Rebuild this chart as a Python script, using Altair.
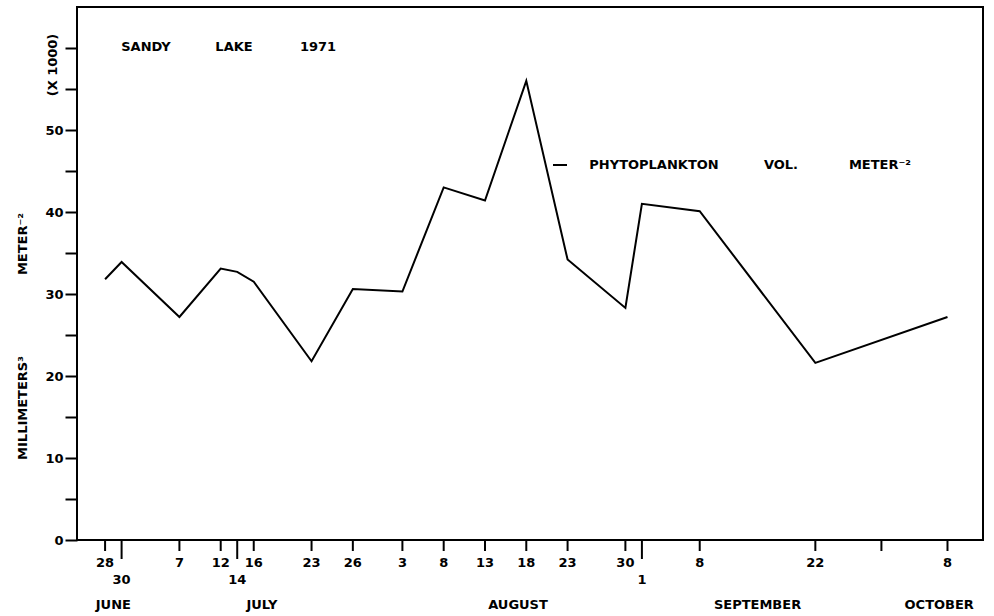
import datetime as dt
import altair as alt
import pandas as pd

# ---------------- data ----------------
sample_dates = ["1971-06-28", "1971-06-30", "1971-07-07", "1971-07-12", "1971-07-14",
                "1971-07-16", "1971-07-23", "1971-07-28", "1971-08-03", "1971-08-08",
                "1971-08-13", "1971-08-18", "1971-08-23", "1971-08-30", "1971-09-01",
                "1971-09-08", "1971-09-22", "1971-10-08"]
volume = [31.8, 33.9, 27.2, 33.1, 32.7, 31.5, 21.8, 30.6, 30.3, 43.0,
          41.4, 56.0, 34.2, 28.3, 41.0, 40.1, 21.6, 27.2]

tick_dates = ["1971-06-28", "1971-06-30", "1971-07-07", "1971-07-12", "1971-07-14",
              "1971-07-16", "1971-07-23", "1971-07-28", "1971-08-03", "1971-08-08",
              "1971-08-13", "1971-08-18", "1971-08-23", "1971-08-30", "1971-09-01",
              "1971-09-08", "1971-09-22", "1971-09-30", "1971-10-08"]
tick_labels = ["28", "30", "7", "12", "14", "16", "23", "26", "3", "8",
               "13", "18", "23", "30", "1", "8", "22", "", "8"]
tick_rows = [1, 2, 1, 1, 2, 1, 1, 1, 1, 1, 1, 1, 1, 1, 2, 1, 1, 1, 1]

month_names = ["JUNE", "JULY", "AUGUST", "SEPTEMBER", "OCTOBER"]
month_dates = ["1971-06-29", "1971-07-17", "1971-08-17", "1971-09-15", "1971-10-07"]

y_tick_values = [0, 5, 10, 15, 20, 25, 30, 35, 40, 45, 50, 55, 60]

ORIGIN = dt.date(1971, 6, 28)


def day_offset(s):
    return (dt.date.fromisoformat(s) - ORIGIN).days


series = pd.DataFrame({"day": [day_offset(d) for d in sample_dates], "volume": volume})
ticks = pd.DataFrame({"day": [day_offset(d) for d in tick_dates],
                      "label": tick_labels, "row": tick_rows})
months = pd.DataFrame({"day": [day_offset(d) for d in month_dates], "month": month_names})

FONT = "DejaVu Sans"
W, H = 906, 533

x_scale = alt.Scale(domain=[-3.4, 106.3], nice=False, zero=False)
y_scale = alt.Scale(domain=[0, 65], nice=False, zero=True)

line = alt.Chart(series).mark_line(color="black", strokeWidth=2).encode(
    x=alt.X("day:Q", scale=x_scale, axis=None),
    y=alt.Y("volume:Q", scale=y_scale,
            axis=alt.Axis(values=y_tick_values,
                          labelExpr="(datum.value % 10 == 0 && datum.value <= 50) ? datum.label : ''",
                          tickSize=12, tickWidth=2, tickColor="black",
                          domain=False, grid=False, title=None,
                          labelFont=FONT, labelFontSize=13, labelFontWeight="bold",
                          labelColor="black", labelPadding=2)),
)

short_ticks = alt.Chart(ticks).mark_rule(color="black", strokeWidth=2).encode(
    x=alt.X("day:Q", scale=x_scale), y=alt.value(H), y2=alt.value(H + 11)
).transform_filter("datum.row == 1")

long_ticks = alt.Chart(ticks).mark_rule(color="black", strokeWidth=2).encode(
    x=alt.X("day:Q", scale=x_scale), y=alt.value(H), y2=alt.value(H + 19)
).transform_filter("datum.row == 2")

text_style = dict(font=FONT, fontSize=13, fontWeight="bold", color="black",
                  baseline="middle", align="center")

row1_labels = alt.Chart(ticks).mark_text(**text_style).encode(
    x=alt.X("day:Q", scale=x_scale), y=alt.value(H + 23), text="label:N"
).transform_filter("datum.row == 1")

row2_labels = alt.Chart(ticks).mark_text(**text_style).encode(
    x=alt.X("day:Q", scale=x_scale), y=alt.value(H + 40), text="label:N"
).transform_filter("datum.row == 2")

month_labels = alt.Chart(months).mark_text(**text_style).encode(
    x=alt.X("day:Q", scale=x_scale), y=alt.value(H + 65), text="month:N"
)


def note(text, x, y, angle=0, size=13):
    return alt.Chart(pd.DataFrame({"t": [text]})).mark_text(
        font=FONT, fontSize=size, fontWeight="bold", color="black",
        baseline="middle", align="center", angle=angle
    ).encode(x=alt.value(x), y=alt.value(y), text="t:N")


annotations = [
    note("SANDY", 69, 40),
    note("LAKE", 157, 40),
    note("1971", 241, 40),
    note("PHYTOPLANKTON", 577, 158),
    note("VOL.", 704, 158),
    note("METER⁻²", 803, 158),
    note("(X 1000)", -24, 58, angle=270),
    note("MILLIMETERS³", -54, 401, angle=270),
    note("METER⁻²", -54, 237, angle=270),
]

dash = alt.Chart(pd.DataFrame({"t": [0]})).mark_rule(color="black", strokeWidth=2).encode(
    x=alt.value(476), x2=alt.value(490), y=alt.value(158)
)

chart = alt.layer(
    line, short_ticks, long_ticks, row1_labels, row2_labels, month_labels, dash, *annotations
).properties(
    width=W, height=H,
    autosize=alt.AutoSizeParams(type="none"),
    padding={"left": 77, "top": 7, "right": 11, "bottom": 76},
    background="white",
).configure_view(stroke="black", strokeWidth=2)

chart.save("out.html", embed_options={"renderer": "svg", "actions": False})
